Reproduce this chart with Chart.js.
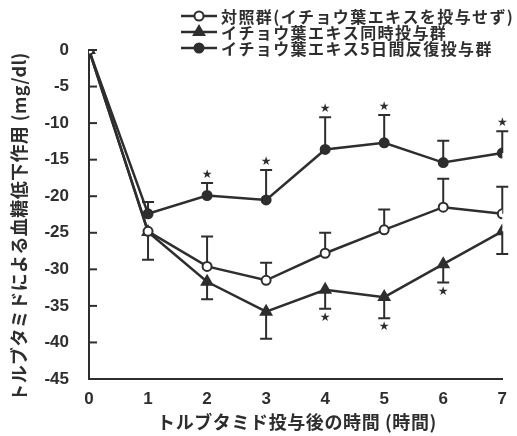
<!DOCTYPE html>
<html><head><meta charset="utf-8">
<script src="https://cdn.jsdelivr.net/npm/chart.js@4"></script>
<style>html,body{margin:0;padding:0;background:#fff}canvas{display:block}</style>
</head><body>
<canvas id="c" width="517" height="436"></canvas>
<script>
// Hours after tolbutamide dosing
const hours = [0, 1, 2, 3, 4, 5, 6, 7];

// Mean blood glucose change (mg/dl) for each group
const controlMean      = [0, -24.8, -29.6, -31.5, -27.8, -24.6, -21.5, -22.4];
const simultaneousMean = [0, -24.9, -31.7, -35.8, -32.8, -33.8, -29.3, -24.8];
const repeatedMean     = [0, -22.4, -19.9, -20.5, -13.6, -12.7, -15.4, -14.1];

// One-sided error bars (SD): control and repeated upward, simultaneous downward
const controlErr      = [0, 0, 4.1, 2.4, 2.8, 2.8, 3.9, 3.7];
const simultaneousErr = [0, 3.8, 2.4, 3.7, 2.6, 2.9, 2.5, 3.1];
const repeatedErr     = [0, 1.6, 1.7, 4.1, 4.4, 3.8, 3.0, 3.0];

// Significance marks (hour indices)
const repeatedStars     = [2, 3, 4, 5, 7];
const simultaneousStars = [4, 5, 6];

const groupLabels = [
  '対照群(イチョウ葉エキスを投与せず)',
  'イチョウ葉エキス同時投与群',
  'イチョウ葉エキス5日間反復投与群'
];
const yTicks = [0, -5, -10, -15, -20, -25, -30, -35, -40, -45];
const xTitle = 'トルブタミド投与後の時間 (時間)';
const yTitle = 'トルブタミドによる血糖低下作用 (mg/dl)';

const INK = '#2e2e2e';
const CJK = "'Noto Sans CJK JP', sans-serif";

const pts = arr => hours.map((h, i) => ({x: h, y: arr[i]}));

const errorBars = {
  id: 'errorBars',
  beforeDatasetsDraw(chart) {
    const {ctx, scales: {x, y}} = chart;
    const sets = [
      {mean: controlMean, err: controlErr, dir: 1},
      {mean: simultaneousMean, err: simultaneousErr, dir: -1},
      {mean: repeatedMean, err: repeatedErr, dir: 1}
    ];
    ctx.save();
    ctx.strokeStyle = INK;
    ctx.lineWidth = 2;
    sets.forEach(s => {
      hours.forEach((h, i) => {
        if (!s.err[i]) return;
        const px = x.getPixelForValue(h);
        const p0 = y.getPixelForValue(s.mean[i]);
        const p1 = y.getPixelForValue(s.mean[i] + s.dir * s.err[i]);
        ctx.beginPath();
        ctx.moveTo(px, p0); ctx.lineTo(px, p1);
        ctx.moveTo(px - 6, p1); ctx.lineTo(px + 6, p1);
        ctx.stroke();
      });
    });
    ctx.restore();
  },
  afterDatasetsDraw(chart) {
    const {ctx, scales: {x, y}} = chart;
    ctx.save();
    ctx.fillStyle = INK;
    ctx.font = "12px 'DejaVu Sans'";
    ctx.textAlign = 'center';
    ctx.textBaseline = 'middle';
    repeatedStars.forEach(i => {
      const px = x.getPixelForValue(hours[i]);
      const py = y.getPixelForValue(repeatedMean[i] + repeatedErr[i]);
      ctx.fillText('★', px, py - 8);
    });
    simultaneousStars.forEach(i => {
      const px = x.getPixelForValue(hours[i]);
      const py = y.getPixelForValue(simultaneousMean[i] - simultaneousErr[i]);
      ctx.fillText('★', px, py + 9);
    });
    // inward tick marks on the value axis
    ctx.strokeStyle = INK;
    ctx.lineWidth = 2;
    yTicks.forEach(v => {
      const py = y.getPixelForValue(v);
      ctx.beginPath();
      ctx.moveTo(x.left, py); ctx.lineTo(x.left + 8, py);
      ctx.stroke();
    });
    ctx.restore();
  }
};

const textLayer = {
  id: 'textLayer',
  afterDraw(chart) {
    const {ctx} = chart;
    const rows = [16, 32, 48];
    ctx.save();
    // legend rows: line + marker + label
    chart.data.datasets.forEach((ds, i) => {
      const yy = rows[i];
      ctx.strokeStyle = INK;
      ctx.lineWidth = 2.5;
      ctx.beginPath();
      ctx.moveTo(181, yy); ctx.lineTo(217, yy);
      ctx.stroke();
      ctx.fillStyle = ds.pointBackgroundColor;
      ctx.lineWidth = 2;
      Chart.helpers.drawPoint(ctx, {pointStyle: ds.pointStyle, radius: ds.pointRadius, borderWidth: 2, rotation: 0}, 199, yy);
      ctx.fillStyle = INK;
      ctx.font = "bold 16px " + CJK;
      ctx.letterSpacing = '1.4px';
      ctx.textAlign = 'left';
      ctx.textBaseline = 'middle';
      ctx.fillText(ds.label, 221, yy + 1);
      ctx.letterSpacing = '0px';
    });
    // axis titles
    ctx.fillStyle = INK;
    ctx.textAlign = 'center';
    ctx.textBaseline = 'middle';
    ctx.font = "bold 18px " + CJK;
    ctx.letterSpacing = '0.6px';
    ctx.fillText(xTitle, 297, 422);
    ctx.translate(19, 227);
    ctx.rotate(-Math.PI / 2);
    ctx.letterSpacing = '0.4px';
    ctx.fillText(yTitle, 0, 0);
    ctx.restore();
  }
};

const line = (label, data, style, fill, r) => ({
  label, data: pts(data),
  borderColor: INK, borderWidth: 2.5,
  pointStyle: style, pointRadius: r,
  pointBackgroundColor: fill, pointBorderColor: INK, pointBorderWidth: 2,
  tension: 0
});

new Chart(document.getElementById('c'), {
  type: 'line',
  data: {
    datasets: [
      line(groupLabels[0], controlMean, 'circle', '#ffffff', 4.5),
      line(groupLabels[1], simultaneousMean, 'triangle', INK, 6),
      line(groupLabels[2], repeatedMean, 'circle', INK, 4.5)
    ]
  },
  options: {
    responsive: false,
    devicePixelRatio: 1,
    animation: false,
    layout: {padding: {top: 50, right: 14, left: 0, bottom: 0}},
    plugins: {legend: {display: false}, tooltip: {enabled: false}},
    scales: {
      x: {
        type: 'linear', min: 0, max: 7,
        afterFit: s => { s.height = 57; },
        afterBuildTicks: s => { s.ticks = hours.map(v => ({value: v})); },
        grid: {display: true, drawOnChartArea: false, drawTicks: false},
        border: {display: true, color: INK, width: 2},
        ticks: {color: INK, padding: 10, font: {family: "'Liberation Sans'", weight: 'bold', size: 17}}
      },
      y: {
        min: -45, max: 0,
        afterFit: s => { s.width = 89; },
        afterBuildTicks: s => { s.ticks = yTicks.map(v => ({value: v})); },
        grid: {display: true, drawOnChartArea: false, drawTicks: false},
        border: {display: true, color: INK, width: 2},
        ticks: {color: INK, padding: 20, font: {family: "'Liberation Sans'", weight: 'bold', size: 17}}
      }
    }
  },
  plugins: [errorBars, textLayer]
});
</script>
</body></html>
